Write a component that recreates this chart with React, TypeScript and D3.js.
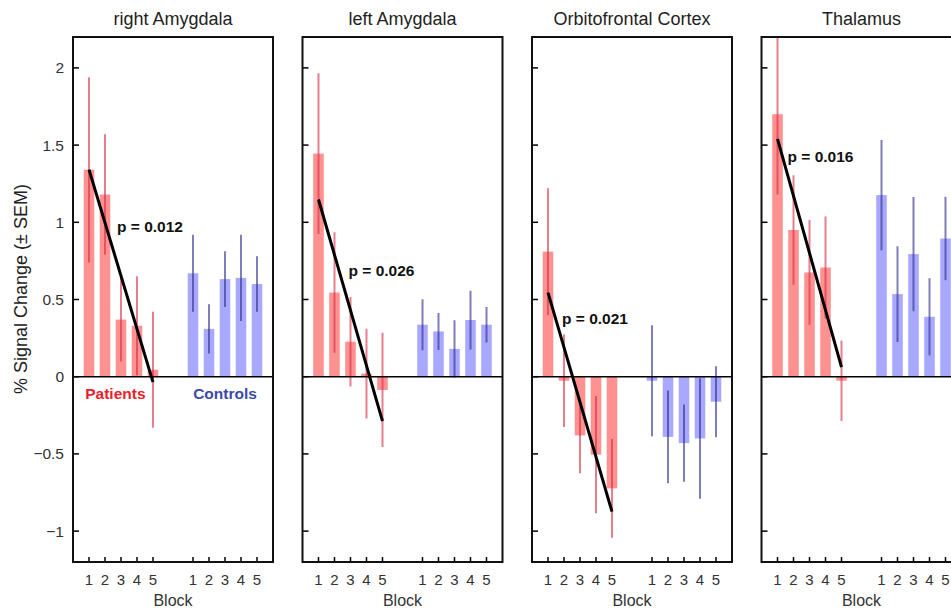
import React from 'react'
import * as d3 from 'd3'

const regions = ['right Amygdala', 'left Amygdala', 'Orbitofrontal Cortex', 'Thalamus']
const blocks = [1, 2, 3, 4, 5]

// mean % signal change per block, one row per region
const patientMeans = [
  [1.34, 1.18, 0.37, 0.33, 0.045],
  [1.445, 0.545, 0.227, 0.02, -0.086],
  [0.81, -0.026, -0.38, -0.505, -0.723],
  [1.7, 0.95, 0.675, 0.707, -0.026],
]
const patientSem = [
  [0.6, 0.39, 0.27, 0.32, 0.375],
  [0.52, 0.39, 0.29, 0.29, 0.37],
  [0.41, 0.3, 0.245, 0.38, 0.32],
  [0.52, 0.355, 0.34, 0.33, 0.26],
]
const controlMeans = [
  [0.67, 0.31, 0.632, 0.64, 0.6],
  [0.337, 0.293, 0.18, 0.367, 0.337],
  [-0.026, -0.39, -0.43, -0.4, -0.162],
  [1.176, 0.535, 0.794, 0.388, 0.895],
]
const controlSem = [
  [0.25, 0.16, 0.18, 0.28, 0.18],
  [0.165, 0.12, 0.185, 0.19, 0.115],
  [0.36, 0.3, 0.25, 0.39, 0.23],
  [0.357, 0.31, 0.37, 0.25, 0.27],
]
const pValues = ['p = 0.012', 'p = 0.026', 'p = 0.021', 'p = 0.016']
const yTicks = [-1, -0.5, 0, 0.5, 1, 1.5, 2]

// where the p label sits, in plot units (block position, signal)
const pLabelAt = [[2.75, 0.97], [2.875, 0.686], [1.875, 0.375], [1.625, 1.426]]

const W = 951
const H = 611
const panelLeft = 73
const panelStep = 229.5
const panelW = 200
const top = 37
const bottom = 562
const font = '"Liberation Sans", Arial, Helvetica, sans-serif'

const red = 'rgb(255,145,145)'
const blue = 'rgb(168,168,255)'
const redErr = 'rgb(215,40,65)'
const blueErr = 'rgb(40,40,140)'

const y = d3.scaleLinear().domain([-1.2, 2.2]).range([bottom, top])
const x = d3.scaleLinear().domain([0, 12.5]).range([0, panelW])
const controlPos = (b: number) => b + 6.5
const barW = x(0.66) - x(0)

const fmt = (v: number) => (v < 0 ? '\u2212' + Math.abs(v) : String(v))

function fit(vals: number[]) {
  const mx = d3.mean(blocks)!
  const my = d3.mean(vals)!
  const slope = d3.sum(blocks, (b, i) => (b - mx) * (vals[i] - my)) / d3.sum(blocks, b => (b - mx) ** 2)
  return (b: number) => my + slope * (b - mx)
}

const Bars = ({ means, sems, pos, fill, err }: any) => (
  <g>
    {means.map((m: number, i: number) => {
      const cx = x(pos(blocks[i]))
      return (
        <g key={i}>
          <rect x={cx - barW / 2} y={Math.min(y(m), y(0))} width={barW} height={Math.abs(y(m) - y(0))} fill={fill} />
          <line x1={cx} x2={cx} y1={y(m + sems[i])} y2={y(m - sems[i])} stroke={err} strokeOpacity={0.6} strokeWidth={2} />
        </g>
      )
    })}
  </g>
)

const Panel = ({ idx }: { idx: number }) => {
  const left = panelLeft + idx * panelStep
  const line = fit(patientMeans[idx])
  const [lx, ly] = pLabelAt[idx]
  const allPos = [...blocks, ...blocks.map(controlPos)]
  return (
    <g transform={`translate(${left},0)`}>
      <defs>
        <clipPath id={`clip${idx}`}>
          <rect x={0} y={top} width={panelW} height={bottom - top} />
        </clipPath>
      </defs>
      <text x={panelW / 2} y={25} textAnchor="middle" fontSize={18} fill="#222">{regions[idx]}</text>
      <g clipPath={`url(#clip${idx})`}>
        <Bars means={patientMeans[idx]} sems={patientSem[idx]} pos={(b: number) => b} fill={red} err={redErr} />
        <Bars means={controlMeans[idx]} sems={controlSem[idx]} pos={controlPos} fill={blue} err={blueErr} />
        <line x1={0} x2={panelW} y1={y(0)} y2={y(0)} stroke="#000" strokeWidth={1.6} />
        <line x1={x(1)} x2={x(5)} y1={y(line(1))} y2={y(line(5))} stroke="#000" strokeWidth={3} />
      </g>
      <text x={x(lx)} y={y(ly)} dy="0.35em" fontSize={15.5} fontWeight="bold" fill="#111">{pValues[idx]}</text>
      {yTicks.map(t => (
        <line key={t} x1={0} x2={6} y1={y(t)} y2={y(t)} stroke="#000" strokeWidth={1.5} />
      ))}
      {allPos.map((p, i) => (
        <g key={i}>
          <line x1={x(p)} x2={x(p)} y1={bottom} y2={bottom - 5} stroke="#000" strokeWidth={1.5} />
          <text x={x(p)} y={584.5} textAnchor="middle" fontSize={15} fill="#333">{blocks[i % 5]}</text>
        </g>
      ))}
      <text x={panelW / 2} y={606} textAnchor="middle" fontSize={16} fill="#333">Block</text>
      <rect x={0} y={top} width={panelW} height={bottom - top} fill="none" stroke="#111" strokeWidth={2} />
      {idx === 0 && (
        <g>
          {yTicks.map(t => (
            <text key={t} x={-9} y={y(t)} dy="0.35em" textAnchor="end" fontSize={15.5} fill="#333">{fmt(t)}</text>
          ))}
          <text x={x(2.65)} y={y(0) + 17} dy="0.35em" textAnchor="middle" fontSize={15.5} fontWeight="bold" fill="#e8222b">Patients</text>
          <text x={x(controlPos(3))} y={y(0) + 17} dy="0.35em" textAnchor="middle" fontSize={15.5} fontWeight="bold" fill="#3a4aa8">Controls</text>
        </g>
      )}
    </g>
  )
}

export default function App() {
  return (
    <svg width={W} height={H} style={{ position: 'fixed', left: 0, top: 0, background: '#fff' }} fontFamily={font}>
      <rect width={W} height={H} fill="#fff" />
      <text transform={`translate(27,${289}) rotate(-90)`} textAnchor="middle" fontSize={18} fill="#222">% Signal Change (± SEM)</text>
      {regions.map((_, i) => <Panel key={i} idx={i} />)}
    </svg>
  )
}
